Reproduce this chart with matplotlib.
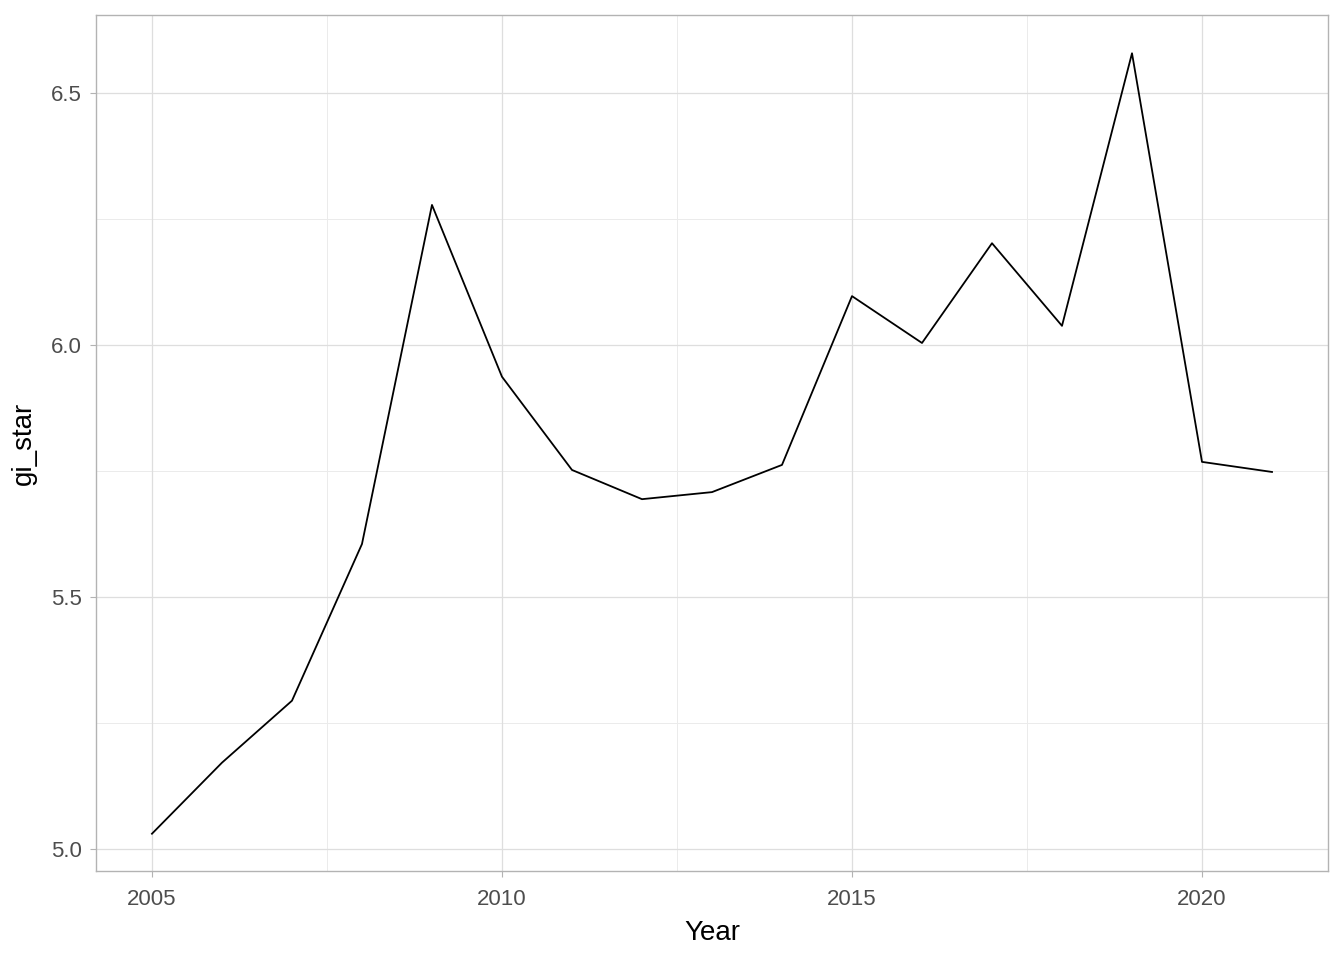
import matplotlib.pyplot as plt
import numpy as np

plt.rcParams['font.family'] = ['Liberation Sans', 'DejaVu Sans']

years = [2005, 2006, 2007, 2008, 2009, 2010, 2011, 2012, 2013,
         2014, 2015, 2016, 2017, 2018, 2019, 2020, 2021]
gi_star = [5.030, 5.171, 5.294, 5.605, 6.278, 5.937, 5.752, 5.694, 5.708,
           5.762, 6.097, 6.004, 6.202, 6.038, 6.579, 5.768, 5.748]

x_ticks = [2005, 2010, 2015, 2020]
y_ticks = [5.0, 5.5, 6.0, 6.5]

fig = plt.figure(figsize=(13.44, 9.6), dpi=100)
ax = fig.add_axes([0.0714, 0.0927, 0.9167, 0.8917])

# minor grid first, then major
for v in [2007.5, 2012.5, 2017.5]:
    ax.axvline(v, color='#EBEBEB', lw=0.7, zorder=0)
for v in [5.25, 5.75, 6.25]:
    ax.axhline(v, color='#EBEBEB', lw=0.7, zorder=0)
for v in x_ticks:
    ax.axvline(v, color='#DEDEDE', lw=0.9, zorder=0)
for v in y_ticks:
    ax.axhline(v, color='#DEDEDE', lw=0.9, zorder=0)

ax.plot(years, gi_star, color='black', lw=1.3, zorder=2)

ax.set_xlim(2004.2, 2021.8)
ax.set_ylim(4.956, 6.655)
ax.set_xticks(x_ticks)
ax.set_yticks(y_ticks)
ax.set_yticklabels(['5.0', '5.5', '6.0', '6.5'])
ax.tick_params(colors='#B3B3B3', labelcolor='#4D4D4D', labelsize=16, length=4, width=0.8)
ax.tick_params(axis='x', pad=9)
ax.tick_params(axis='y', pad=6)

for s in ax.spines.values():
    s.set_color('#B3B3B3')
    s.set_linewidth(1.0)

ax.set_xlabel('Year', fontsize=20, labelpad=7)
ax.set_ylabel('gi_star', fontsize=20, labelpad=10)

fig.savefig('out.png', dpi=100)
